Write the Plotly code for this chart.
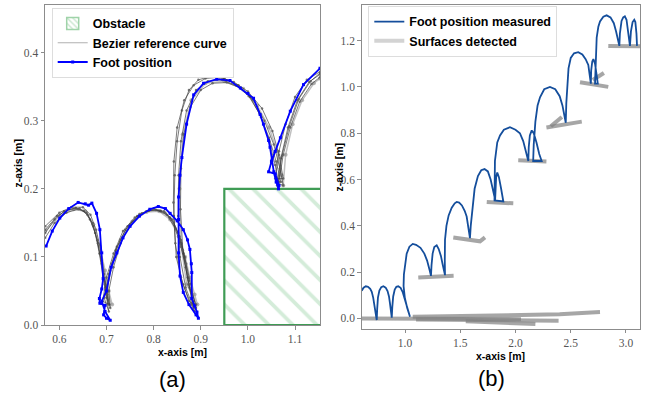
import plotly.graph_objects as go

# ---------------- Panel (a) data ----------------
obstacle_x = [0.95, 1.20, 1.20, 0.95, 0.95]
obstacle_y = [0.0, 0.0, 0.20, 0.20, 0.0]

foot_a_x = [0.572, 0.585, 0.601, 0.620, 0.640, 0.655, 0.662, 0.669, 0.679, 0.686, 0.690, 0.693, 0.690, 0.685,
            0.686, 0.697, 0.694, 0.700, 0.708, 0.697, 0.690, 0.700, 0.710, 0.722, 0.735, 0.750, 0.770, 0.792,
            0.810, 0.825, 0.835, 0.850, 0.863, 0.872, 0.877, 0.880, 0.881, 0.881, 0.887, 0.892, 0.895, 0.890,
            0.875, 0.863, 0.856, 0.853, 0.853, 0.853, 0.856, 0.860, 0.870, 0.885, 0.906, 0.934, 0.962, 0.984,
            1.000, 1.012, 1.026, 1.033, 1.044, 1.047, 1.051, 1.055, 1.060, 1.065, 1.066, 1.058, 1.044, 1.050,
            1.058, 1.069, 1.090, 1.118, 1.153]
foot_a_y = [0.116, 0.138, 0.157, 0.171, 0.180, 0.178, 0.176, 0.179, 0.164, 0.140, 0.106, 0.068, 0.053, 0.039,
            0.032, 0.029, 0.015, 0.010, 0.007, 0.020, 0.035, 0.050, 0.085, 0.106, 0.128, 0.145, 0.160, 0.170,
            0.174, 0.171, 0.164, 0.153, 0.140, 0.125, 0.111, 0.090, 0.077, 0.039, 0.028, 0.019, 0.010, 0.015,
            0.030, 0.048, 0.072, 0.106, 0.155, 0.188, 0.220, 0.246, 0.295, 0.338, 0.355, 0.361, 0.359, 0.348,
            0.340, 0.333, 0.309, 0.295, 0.271, 0.261, 0.242, 0.225, 0.210, 0.200, 0.205, 0.222, 0.225, 0.240,
            0.255, 0.275, 0.314, 0.353, 0.377]

ref1_x = [0.570, 0.590, 0.610, 0.635, 0.652, 0.665, 0.676, 0.685, 0.693, 0.700, 0.705,
          0.695, 0.705, 0.720, 0.740, 0.765, 0.790, 0.815, 0.835, 0.852, 0.863, 0.872, 0.880, 0.887,
          0.880, 0.862, 0.848, 0.843, 0.845, 0.850, 0.860, 0.875, 0.895, 0.920, 0.950, 0.980, 1.005, 1.028,
          1.045, 1.058, 1.066, 1.062, 1.070, 1.085, 1.105, 1.130, 1.153]
ref1_y = [0.135, 0.155, 0.167, 0.172, 0.168, 0.155, 0.135, 0.105, 0.070, 0.040, 0.020,
          0.040, 0.075, 0.110, 0.140, 0.160, 0.168, 0.168, 0.158, 0.135, 0.105, 0.070, 0.040, 0.020,
          0.030, 0.060, 0.100, 0.160, 0.220, 0.270, 0.315, 0.345, 0.360, 0.365, 0.362, 0.352, 0.335, 0.305,
          0.270, 0.235, 0.205, 0.205, 0.245, 0.290, 0.330, 0.357, 0.368]

ref2_x = [0.570, 0.595, 0.620, 0.643, 0.660, 0.672, 0.682, 0.690, 0.698, 0.704,
          0.700, 0.708, 0.722, 0.745, 0.770, 0.800, 0.822, 0.840, 0.855, 0.866, 0.875, 0.884,
          0.885, 0.868, 0.856, 0.852, 0.853, 0.858, 0.870, 0.890, 0.915, 0.945, 0.975, 1.002, 1.025,
          1.045, 1.060, 1.070, 1.066, 1.075, 1.090, 1.110, 1.135, 1.153]
ref2_y = [0.140, 0.160, 0.170, 0.171, 0.162, 0.145, 0.120, 0.090, 0.055, 0.030,
          0.045, 0.080, 0.115, 0.145, 0.163, 0.171, 0.167, 0.155, 0.130, 0.100, 0.065, 0.035,
          0.025, 0.055, 0.100, 0.160, 0.220, 0.270, 0.315, 0.345, 0.358, 0.360, 0.352, 0.336, 0.310,
          0.275, 0.240, 0.210, 0.210, 0.250, 0.290, 0.328, 0.354, 0.364]

ref3_x = [0.570, 0.590, 0.615, 0.640, 0.658, 0.670, 0.680, 0.689, 0.697, 0.706,
          0.692, 0.700, 0.715, 0.735, 0.760, 0.785, 0.805, 0.828, 0.846, 0.858, 0.868, 0.876, 0.886,
          0.875, 0.858, 0.846, 0.842, 0.843, 0.850, 0.865, 0.885, 0.910, 0.940, 0.970, 1.000, 1.030,
          1.052, 1.066, 1.075, 1.058, 1.066, 1.080, 1.100, 1.125, 1.153]
ref3_y = [0.128, 0.150, 0.165, 0.170, 0.165, 0.150, 0.125, 0.095, 0.060, 0.030,
          0.035, 0.070, 0.105, 0.138, 0.158, 0.167, 0.169, 0.162, 0.142, 0.115, 0.085, 0.055, 0.030,
          0.035, 0.070, 0.120, 0.180, 0.240, 0.290, 0.330, 0.352, 0.362, 0.364, 0.357, 0.343, 0.318,
          0.285, 0.250, 0.215, 0.215, 0.255, 0.295, 0.335, 0.360, 0.372]

ref4_x = [0.570, 0.600, 0.625, 0.650, 0.666, 0.678, 0.688, 0.695, 0.702, 0.708,
          0.705, 0.715, 0.730, 0.750, 0.775, 0.800, 0.825, 0.843, 0.858, 0.869, 0.878, 0.890,
          0.890, 0.874, 0.862, 0.857, 0.858, 0.864, 0.878, 0.900, 0.925, 0.955, 0.985, 1.012, 1.035,
          1.055, 1.068, 1.075, 1.064, 1.072, 1.088, 1.108, 1.133, 1.153]
ref4_y = [0.145, 0.165, 0.173, 0.173, 0.162, 0.140, 0.110, 0.075, 0.045, 0.025,
          0.050, 0.085, 0.120, 0.148, 0.164, 0.170, 0.165, 0.150, 0.125, 0.090, 0.060, 0.025,
          0.030, 0.060, 0.110, 0.170, 0.230, 0.280, 0.320, 0.345, 0.355, 0.356, 0.348, 0.330, 0.300,
          0.265, 0.230, 0.205, 0.208, 0.248, 0.292, 0.332, 0.358, 0.370]

ref5_x = [0.570, 0.600, 0.630, 0.655, 0.672, 0.686, 0.697, 0.705, 0.712,
          0.700, 0.712, 0.730, 0.755, 0.785, 0.812, 0.835, 0.853, 0.867, 0.877, 0.887, 0.893,
          0.870, 0.858, 0.855, 0.862, 0.880, 0.910, 0.950, 0.990, 1.020, 1.045, 1.062, 1.072, 1.075,
          1.080, 1.095, 1.115, 1.140, 1.153]
ref5_y = [0.138, 0.160, 0.170, 0.167, 0.148, 0.115, 0.080, 0.050, 0.030,
          0.050, 0.090, 0.125, 0.152, 0.166, 0.167, 0.155, 0.130, 0.100, 0.070, 0.045, 0.030,
          0.060, 0.120, 0.200, 0.280, 0.330, 0.355, 0.358, 0.347, 0.322, 0.290, 0.255, 0.220, 0.205,
          0.250, 0.295, 0.330, 0.355, 0.362]

xticks_a = [0.6, 0.7, 0.8, 0.9, 1.0, 1.1]
xtick_text_a = ["0.6", "0.7", "0.8", "0.9", "1.0", "1.1"]
yticks_a = [0.0, 0.1, 0.2, 0.3, 0.4]
ytick_text_a = ["0.0", "0.1", "0.2", "0.3", "0.4"]

# ---------------- Panel (b) data ----------------
foot_b_x = [0.608, 0.625, 0.645, 0.665, 0.685, 0.699, 0.712, 0.722, 0.733, 0.744,
            0.748, 0.755, 0.768, 0.785, 0.804, 0.825, 0.842, 0.855, 0.864, 0.872, 0.880,
            0.885, 0.893, 0.907, 0.922, 0.939, 0.960, 0.978, 0.995, 1.015, 1.030, 1.045,
            1.020, 0.998, 0.987, 0.990, 1.000, 1.015, 1.040, 1.070, 1.100, 1.140, 1.175, 1.200, 1.222, 1.235,
            1.240, 1.250, 1.265, 1.287, 1.305, 1.325, 1.340, 1.352, 1.362,
            1.360, 1.362, 1.375, 1.395, 1.423, 1.450, 1.468, 1.490, 1.515, 1.540, 1.558, 1.573, 1.582, 1.588,
            1.595, 1.610, 1.630, 1.660, 1.690, 1.720, 1.750, 1.775, 1.795, 1.810, 1.815,
            1.818, 1.825, 1.835, 1.850, 1.870, 1.885, 1.890, 1.810,
            1.812, 1.814, 1.835, 1.860, 1.895, 1.950, 2.000, 2.040, 2.070, 2.100, 2.116,
            2.120, 2.130, 2.147, 2.165, 2.190, 2.215, 2.237, 2.160,
            2.165, 2.180, 2.200, 2.222, 2.260, 2.312, 2.360, 2.400, 2.425, 2.440, 2.455,
            2.460, 2.470, 2.480, 2.500, 2.530, 2.568, 2.605, 2.635, 2.659, 2.672, 2.682,
            2.685, 2.695, 2.705, 2.720, 2.735, 2.745, 2.720,
            2.725, 2.735, 2.750, 2.765, 2.795, 2.825, 2.860, 2.890, 2.910, 2.930, 2.940,
            2.945, 2.960, 2.975, 2.990, 3.005, 3.020, 3.036,
            3.045, 3.060, 3.075, 3.085, 3.095, 3.100]
foot_b_y = [0.120, 0.133, 0.139, 0.137, 0.128, 0.115, 0.090, 0.060, 0.030, -0.007,
            0.040, 0.090, 0.120, 0.135, 0.139, 0.133, 0.118, 0.095, 0.065, 0.030, 0.003,
            0.050, 0.095, 0.125, 0.137, 0.139, 0.132, 0.115, 0.090, 0.057, 0.030, 0.007,
            0.045, 0.090, 0.140, 0.190, 0.230, 0.280, 0.310, 0.322, 0.318, 0.305, 0.280, 0.250, 0.210, 0.184,
            0.230, 0.280, 0.308, 0.316, 0.300, 0.270, 0.235, 0.205, 0.187,
            0.250, 0.340, 0.400, 0.445, 0.478, 0.497, 0.503, 0.500, 0.488, 0.465, 0.440, 0.400, 0.370, 0.347,
            0.400, 0.480, 0.560, 0.615, 0.640, 0.645, 0.635, 0.600, 0.560, 0.525, 0.505,
            0.560, 0.610, 0.630, 0.610, 0.560, 0.520, 0.505, 0.510,
            0.600, 0.681, 0.760, 0.790, 0.815, 0.826, 0.815, 0.800, 0.766, 0.709, 0.680,
            0.740, 0.790, 0.812, 0.800, 0.760, 0.710, 0.680, 0.680,
            0.750, 0.850, 0.920, 0.955, 0.990, 1.000, 0.990, 0.960, 0.920, 0.880, 0.845,
            0.930, 1.020, 1.080, 1.125, 1.145, 1.150, 1.140, 1.120, 1.095, 1.050, 1.014,
            1.070, 1.110, 1.120, 1.100, 1.050, 1.014, 1.014,
            1.100, 1.213, 1.260, 1.283, 1.303, 1.309, 1.300, 1.275, 1.240, 1.198, 1.177,
            1.230, 1.285, 1.300, 1.305, 1.290, 1.240, 1.177,
            1.240, 1.280, 1.290, 1.280, 1.230, 1.177]

surf_x = [0.61, 1.30, 2.05, None,
          1.07, 1.60, 2.40, 2.765, None,
          1.10, 1.80, 2.39, None,
          1.55, 1.85, 2.18, None,
          1.12, 1.30, 1.44, None,
          1.437, 1.58, 1.679, 1.724, None,
          1.74, 1.86, 1.98, None,
          2.025, 2.15, 2.28, None,
          2.28, 2.45, 2.60, None,
          2.32, 2.42, None,
          2.584, 2.70, 2.84, None,
          2.70, 2.80, None,
          2.84, 2.98, 3.13]
surf_y = [0.000, -0.002, -0.003, None,
          0.007, 0.012, 0.018, 0.028, None,
          -0.004, -0.007, -0.010, None,
          -0.012, -0.018, -0.024, None,
          0.177, 0.180, 0.184, None,
          0.350, 0.342, 0.333, 0.350, None,
          0.503, 0.500, 0.497, None,
          0.683, 0.680, 0.678, None,
          0.825, 0.840, 0.850, None,
          0.830, 0.870, None,
          1.020, 1.012, 1.000, None,
          1.030, 1.060, None,
          1.177, 1.176, 1.175]

xticks_b = [1.0, 1.5, 2.0, 2.5, 3.0]
xtick_text_b = ["1.0", "1.5", "2.0", "2.5", "3.0"]
yticks_b = [0.0, 0.2, 0.4, 0.6, 0.8, 1.0, 1.2]
ytick_text_b = ["0.0", "0.2", "0.4", "0.6", "0.8", "1.0", "1.2"]

W, H = 646, 400
fig = go.Figure()

# obstacle (drawn in plot; legend swatch provided by a hatched bar entry)
fig.add_trace(go.Scatter(
    x=obstacle_x, y=obstacle_y, mode="lines", fill="toself",
    line=dict(color="#3f9c55", width=2.2),
    fillcolor="white",
    fillpattern=dict(shape="\\", fgcolor="#a9d9b3", bgcolor="white", size=17, solidity=0.22),
    showlegend=False, xaxis="x", yaxis="y"))
fig.add_trace(go.Bar(
    x=[None], y=[None], name="Obstacle", legend="legend", legendrank=1,
    marker=dict(color="white", line=dict(color="#9fd3a9", width=1.5),
                pattern=dict(shape="\\", fgcolor="#8fcc9b", bgcolor="white", size=5, solidity=0.35)),
    xaxis="x", yaxis="y"))

for rx, ry in [(ref5_x, ref5_y)]:
    fig.add_trace(go.Scatter(
        x=rx, y=ry, mode="lines+markers",
        line=dict(color="rgba(150,150,150,0.6)", width=1.5),
        marker=dict(size=4, color="rgba(150,150,150,0.7)"),
        showlegend=False, xaxis="x", yaxis="y"))

refs = [(ref1_x, ref1_y), (ref2_x, ref2_y), (ref3_x, ref3_y), (ref4_x, ref4_y)]
for rx, ry in refs:
    fig.add_trace(go.Scatter(
        x=rx, y=ry, mode="lines+markers",
        line=dict(color="rgba(60,60,60,0.75)", width=0.9),
        marker=dict(size=2.5, color="rgba(90,90,90,0.8)"),
        showlegend=False, xaxis="x", yaxis="y"))
# legend swatch for the reference curves (single light line, as in the original legend)
fig.add_trace(go.Scatter(
    x=[None], y=[None], mode="lines", line=dict(color="#b0b0b0", width=1),
    name="Bezier reference curve", legend="legend", legendrank=2, xaxis="x", yaxis="y"))

fig.add_trace(go.Scatter(
    x=foot_a_x, y=foot_a_y, mode="lines+markers",
    line=dict(color="#0000ff", width=1.8),
    marker=dict(size=3, color="#0000ff", symbol="square"),
    name="Foot position", legend="legend", legendrank=3, xaxis="x", yaxis="y"))

# panel b
fig.add_trace(go.Scatter(
    x=surf_x, y=surf_y, mode="lines", connectgaps=False,
    line=dict(color="rgba(128,128,128,0.7)", width=4),
    showlegend=False, xaxis="x2", yaxis="y2"))
fig.add_trace(go.Scatter(
    x=[None], y=[None], mode="lines", line=dict(color="rgba(200,200,200,0.8)", width=4),
    name="Surfaces detected", legend="legend2", legendrank=2, xaxis="x2", yaxis="y2"))
fig.add_trace(go.Scatter(
    x=foot_b_x, y=foot_b_y, mode="lines",
    line=dict(color="#144e9c", width=1.8),
    name="Foot position measured", legend="legend2", legendrank=1, xaxis="x2", yaxis="y2"))

axis_common = dict(showline=True, linecolor="#8c8c8c", linewidth=1, mirror=True,
                   ticks="outside", ticklen=3.5, tickcolor="#8c8c8c", showgrid=False,
                   zeroline=False,
                   tickfont=dict(family="Liberation Serif", size=11.5, color="#555555"))

legend_font = dict(family="Liberation Sans", size=12.5, color="black", weight="bold")
fig.update_layout(
    width=W, height=H, margin=dict(l=0, r=0, t=0, b=0),
    paper_bgcolor="white", plot_bgcolor="white", showlegend=True,
    xaxis=dict(domain=[45 / W, 320 / W], range=[0.5696, 1.153], tickvals=xticks_a,
               ticktext=xtick_text_a, anchor="y", **axis_common),
    yaxis=dict(domain=[1 - 330 / H, 1 - 5 / H], range=[0, 0.47], tickvals=yticks_a,
               ticktext=ytick_text_a, anchor="x", **axis_common),
    xaxis2=dict(domain=[361.7 / W, 640 / W], range=[0.608, 3.127], tickvals=xticks_b,
                ticktext=xtick_text_b, anchor="y2", **axis_common),
    yaxis2=dict(domain=[1 - 334 / H, 1 - 5 / H], range=[-0.0455, 1.354], tickvals=yticks_b,
                ticktext=ytick_text_b, anchor="x2", **axis_common),
    legend=dict(x=51.7 / W, y=1 - 8 / H, xanchor="left", yanchor="top",
                bgcolor="white", bordercolor="#dddddd", borderwidth=1,
                font=legend_font, tracegroupgap=0, itemwidth=30, traceorder="normal"),
    legend2=dict(x=368.3 / W, y=1 - 6 / H, xanchor="left", yanchor="top",
                 bgcolor="white", bordercolor="#dddddd", borderwidth=1,
                 font=legend_font, tracegroupgap=0, itemwidth=30, traceorder="normal"),
)

ann_font = dict(family="Liberation Sans", size=10.5, color="black", weight="bold")
anns = [
    dict(text="x-axis [m]", x=182.5 / W, y=1 - 357 / H, font=ann_font, textangle=0),
    dict(text="x-axis [m]", x=500.8 / W, y=1 - 361 / H, font=ann_font, textangle=0),
    dict(text="z-axis [m]", x=18 / W, y=1 - 166 / H, font=ann_font, textangle=-90),
    dict(text="z-axis [m]", x=339 / W, y=1 - 170 / H, font=ann_font, textangle=-90),
    dict(text="(a)", x=172 / W, y=1 - 385 / H,
         font=dict(family="Liberation Sans", size=22, color="black"), textangle=0),
    dict(text="(b)", x=491 / W, y=1 - 384 / H,
         font=dict(family="Liberation Sans", size=22, color="black"), textangle=0),
]
for a in anns:
    fig.add_annotation(xref="paper", yref="paper", showarrow=False,
                       xanchor="center", yanchor="middle", **a)

fig.write_html("out.html", config={"displayModeBar": False},
               post_script="document.body.style.margin='0px';document.body.style.overflow='hidden';")
